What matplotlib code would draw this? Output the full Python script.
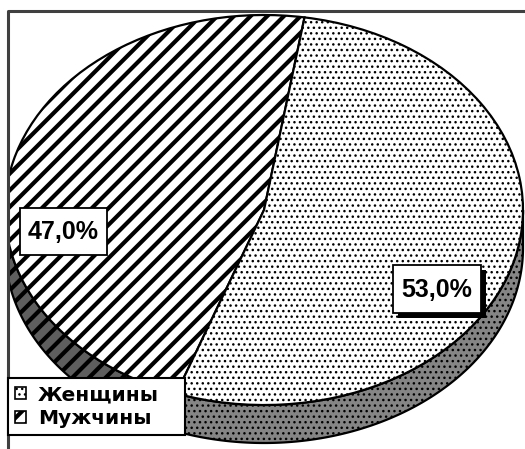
import numpy as np
import matplotlib.pyplot as plt
from matplotlib.patches import Polygon, Rectangle

plt.rcParams['hatch.linewidth'] = 3.0

# data
labels = ['Женщины', 'Мужчины']
shares = [53.0, 47.0]

W, H = 525, 449
CX, CY, RX, RY = 264, 210, 259, 195  # pie ellipse in pixels
DEPTH = 38 / RY


def px(x, y):
    return (x - CX) / RX, (CY - y) / RY


def thin_dots(patch, lw=1.0):
    if hasattr(patch, 'set_hatch_linewidth'):
        patch.set_hatch_linewidth(lw)


fig = plt.figure(figsize=(W / 100, H / 100), dpi=100)
ax = fig.add_axes([0, 0, 1, 1])

# pie order: men first (left part), women second
wedges, _ = ax.pie([shares[1], shares[0]], startangle=81, radius=1,
                   colors=['white', 'white'],
                   wedgeprops=dict(edgecolor='black', linewidth=1.6))
wedges[0].set_hatch('//')
wedges[1].set_hatch('...')
thin_dots(wedges[1])

side_colors = ['#5e5e5e', '#858585']
side_hatch = ['//', '...']
for w, fc, hh in zip(wedges, side_colors, side_hatch):
    lo, hi = max(w.theta1, 180), min(w.theta2, 360)
    if hi <= lo:
        continue
    t = np.radians(np.linspace(lo, hi, 200))
    top = np.column_stack([np.cos(t), np.sin(t)])
    bot = np.column_stack([np.cos(t[::-1]), np.sin(t[::-1]) - DEPTH])
    side = Polygon(np.vstack([top, bot]), closed=True, facecolor=fc,
                   edgecolor='black', linewidth=1.6, hatch=hh, zorder=0.5)
    if hh == '...':
        thin_dots(side)
    ax.add_patch(side)

ax.set_aspect('auto')
ax.set_xlim(px(0, 0)[0], px(W, 0)[0])
ax.set_ylim(px(0, H)[1], px(0, 0)[1])
ax.axis('off')

# outside of the plot area stays white
ax.add_patch(Rectangle(px(0, H), 8 / RX, H / RY, fc='white', ec='none', zorder=4))
ax.add_patch(Rectangle(px(0, 11), W / RX, 11 / RY, fc='white', ec='none', zorder=4))
x0, y0 = px(8, 11)
x1, y1 = px(W, H)
ax.plot([x1, x0, x0], [y0, y0, y1], color='#404040', lw=2.2, zorder=5,
        solid_capstyle='butt')


def label_box(x, y, w, h, text, shadow=False):
    if shadow:
        ax.add_patch(Rectangle(px(x + 5, y + h + 5), w / RX, h / RY,
                               fc='black', ec='none', zorder=6))
    ax.add_patch(Rectangle(px(x, y + h), w / RX, h / RY,
                           fc='white', ec='black', lw=1.3, zorder=7))
    ax.text(*px(x + w / 2, y + h / 2 + 1), text, ha='center', va='center',
            fontsize=18, fontweight='bold', family='Liberation Sans', zorder=8)


fmt = lambda v: f'{v:.1f}%'.replace('.', ',')
label_box(20, 208, 87, 47, fmt(shares[1]))
label_box(393, 265, 88, 48, fmt(shares[0]), shadow=True)

leg = ax.legend(handles=[wedges[1], wedges[0]], labels=labels,
                loc='upper left',
                bbox_to_anchor=(8 / W, 1 - 434 / H, 177 / W, 56 / H),
                mode='expand', borderaxespad=0, frameon=True, fancybox=False,
                edgecolor='black', framealpha=1,
                prop=dict(family='DejaVu Sans', weight='bold', size=14.5),
                handlelength=0.55, handleheight=0.55, handletextpad=0.6,
                labelspacing=0.25, borderpad=0.35)
leg.get_frame().set_linewidth(1.5)
leg.set_zorder(9)
for hnd in leg.legend_handles:
    hnd.set_linewidth(1.2)
    if hnd.get_hatch() == '...':
        thin_dots(hnd)

fig.savefig('out.png', dpi=100)
